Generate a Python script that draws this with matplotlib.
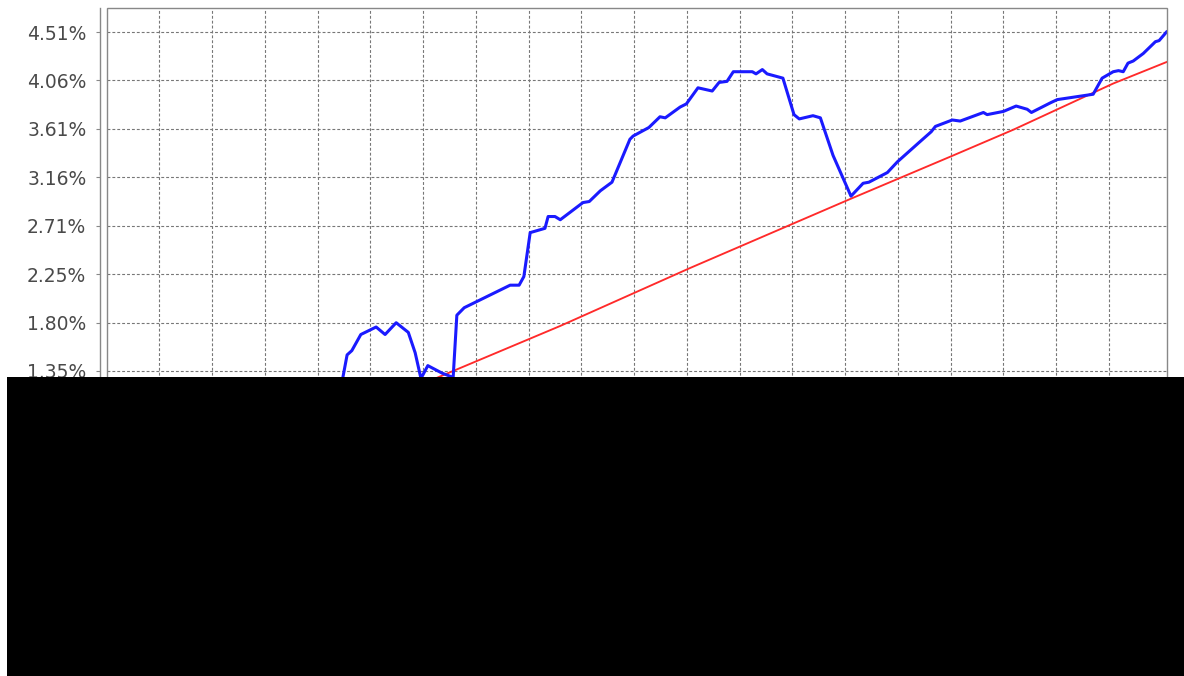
import matplotlib
matplotlib.use("Agg")
import matplotlib.pyplot as plt
from matplotlib.patches import Rectangle

# ---- data (x = period index, gridlines at each period; y = cumulative return in %) ----
blue_x = [0.0, 1.5, 3.0, 4.0, 4.48, 4.56, 4.65, 4.82, 5.11, 5.28, 5.49, 5.72, 5.85, 5.96,
          6.09, 6.36, 6.57, 6.64, 6.78, 7.65, 7.82, 7.91, 8.03, 8.31, 8.37, 8.50, 8.60,
          9.03, 9.15, 9.36, 9.58, 9.92, 9.98, 10.28, 10.49, 10.59, 10.87, 10.99, 11.21,
          11.48, 11.61, 11.76, 11.88, 12.24, 12.31, 12.43, 12.52, 12.82, 13.03, 13.13,
          13.39, 13.53, 13.77, 14.11, 14.34, 14.45, 14.80, 14.99, 15.40, 15.63, 15.71,
          16.03, 16.18, 16.62, 16.69, 17.00, 17.24, 17.45, 17.53, 17.89, 18.02, 18.70,
          18.87, 19.08, 19.18, 19.27, 19.36, 19.46, 19.65, 19.88, 19.95, 20.09]
blue_y = [0.00, 0.30, 0.70, 1.00, 1.29, 1.50, 1.54, 1.69, 1.76, 1.69, 1.80, 1.71, 1.52, 1.28,
          1.40, 1.33, 1.29, 1.87, 1.94, 2.15, 2.15, 2.23, 2.64, 2.68, 2.79, 2.79, 2.76,
          2.92, 2.93, 3.03, 3.11, 3.51, 3.54, 3.62, 3.72, 3.71, 3.81, 3.84, 3.99,
          3.96, 4.04, 4.05, 4.14, 4.14, 4.12, 4.16, 4.12, 4.08, 3.74, 3.70,
          3.73, 3.71, 3.36, 2.98, 3.10, 3.11, 3.20, 3.30, 3.48, 3.58, 3.63,
          3.69, 3.68, 3.76, 3.74, 3.77, 3.82, 3.79, 3.76, 3.85, 3.88, 3.93,
          4.08, 4.14, 4.15, 4.14, 4.22, 4.24, 4.31, 4.42, 4.43, 4.51]

red_x = [0.0, 2.0, 4.0, 6.28, 8.60, 11.06, 14.08, 16.05, 17.19, 19.08, 20.09]
red_y = [0.00, 0.40, 0.81, 1.29, 1.77, 2.31, 2.95, 3.36, 3.60, 4.03, 4.23]

ytick_labels = ["-0.45%", "0.00%", "0.45%", "0.90%", "1.35%", "1.80%", "2.25%",
                "2.71%", "3.16%", "3.61%", "4.06%", "4.51%"]
ytick_step = 0.4514
ytick_start = -0.4556

# ---- figure ----
W, H = 1184, 676
fig = plt.figure(figsize=(W / 100, H / 100), dpi=100)
left, right, top, bottom = 106.5, 1166.5, 8, 600
ax = fig.add_axes([left / W, 1 - bottom / H, (right - left) / W, (bottom - top) / H])

ax.plot(red_x, red_y, color="#ff2a2a", lw=1.35, zorder=3)
ax.plot(blue_x, blue_y, color="#1a1aff", lw=2.2, zorder=4, solid_joinstyle="round")

ax.set_xlim(0, 20.09)
ax.set_ylim(-0.785, 4.734)
yt = [ytick_start + i * ytick_step for i in range(len(ytick_labels))]
ax.set_yticks(yt)
ax.set_yticklabels(ytick_labels)
ax.set_xticks(range(1, 20))
ax.tick_params(axis="x", bottom=False, labelbottom=False)
ax.tick_params(axis="y", direction="out", length=3, width=0.8, color="#888888",
               labelsize=13.5, labelcolor="#4a4a4a", pad=7)

ax.grid(True, color="#777777", linestyle=(0, (2.6, 1.8)), linewidth=0.8)
ax.set_axisbelow(True)

for s in ["top", "right", "bottom"]:
    ax.spines[s].set_visible(False)
ax.spines["left"].set_position(("outward", 4.5))
ax.spines["left"].set_color("#888888")
ax.spines["left"].set_linewidth(1.0)
ax.add_patch(Rectangle((0, 0), 1, 1, transform=ax.transAxes, fill=False,
                       edgecolor="#888888", lw=1.0, clip_on=False, zorder=5))

# redaction block as in the reference
fig.add_artist(Rectangle((7 / W, 0), 1 - 7 / W, (H - 376.5) / H,
                         transform=fig.transFigure, facecolor="black",
                         edgecolor="none", zorder=10))

fig.savefig("out.png", dpi=100)
